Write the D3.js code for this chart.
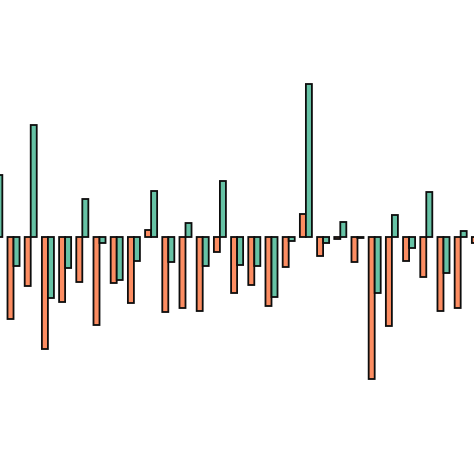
<!DOCTYPE html>
<html lang="en">
<head>
  <meta charset="UTF-8" />
  <title>Grouped bars</title>
  <script src="https://d3js.org/d3.v7.min.js"></script>
  <style>
    html, body {
      margin: 0;
      padding: 0;
      background-color: white;
      overflow: hidden;
    }
  </style>
</head>
<body>
  <svg id="chart" width="474" height="474"></svg>

  <script>
    // one entry per group, left to right (first and last are partly cut off)
    const categories = d3.range(29).map(i => "G" + i);
    const seriesNames = ["a", "b"];
    const seriesA = [-3.0, -8.2, -4.9, -11.2, -6.5, -4.5, -8.8, -4.6, -6.6, 0.7,
                     -7.5, -7.1, -7.4, -1.5, -5.6, -4.8, -6.9, -3.0, 2.3, -1.9,
                     -0.2, -2.5, -14.2, -8.9, -2.4, -4.0, -7.4, -7.1, -0.6];
    const seriesB = [6.2, -2.9, 11.2, -6.1, -3.1, 3.8, -0.6, -4.3, -2.4, 4.6,
                     -2.5, 1.4, -2.9, 5.6, -2.8, -2.9, -6.0, -0.4, 15.3, -0.6,
                     1.5, -0.1, -5.6, 2.2, -1.1, 4.5, -3.6, 0.6, 0.5];

    const colors = { a: "#fc8d62", b: "#66c2a5" };
    const width = 474, height = 474;
    const svg = d3.select("#chart");

    const x = d3.scaleBand()
      .domain(categories)
      .range([-9.7, 483.9])
      .paddingInner(0.3)
      .paddingOuter(0);

    const xSub = d3.scaleBand()
      .domain(seriesNames)
      .range([0, x.bandwidth()]);

    const y = d3.scaleLinear()
      .domain([-23.7, 23.7])
      .range([height, 0]);

    const rows = categories.map((c, i) => ({
      cat: c,
      vals: [{ key: "a", v: seriesA[i] }, { key: "b", v: seriesB[i] }]
    }));

    const groups = svg.selectAll("g.group")
      .data(rows)
      .enter()
      .append("g")
      .attr("class", "group")
      .attr("transform", d => `translate(${x(d.cat)},0)`);

    groups.selectAll("rect")
      .data(d => d.vals)
      .enter()
      .append("rect")
      .attr("x", d => xSub(d.key))
      .attr("y", d => y(Math.max(0, d.v)))
      .attr("width", xSub.bandwidth())
      .attr("height", d => Math.abs(y(d.v) - y(0)))
      .attr("fill", d => colors[d.key])
      .attr("stroke", "#0d0d0d")
      .attr("stroke-width", 1.8);
  </script>
</body>
</html>
